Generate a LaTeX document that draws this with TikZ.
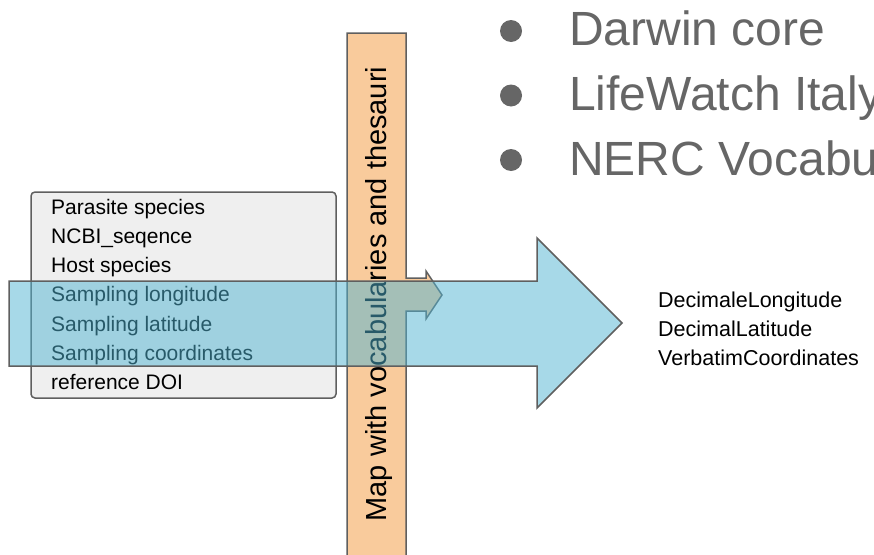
\documentclass[tikz,border=0pt]{standalone}
\usepackage{fontspec}
\setmainfont{Liberation Sans}
\usepackage{xcolor}
\definecolor{boxgrey}{HTML}{EFEFEF}
\definecolor{edgegrey}{HTML}{5F5F5F}
\definecolor{mapbar}{HTML}{F9CB9C}
\definecolor{flowblue}{RGB}{80,180,210}
\definecolor{bulletgrey}{HTML}{666666}

\begin{document}
\begin{tikzpicture}[x=1pt,y=-1pt,
        field/.style={anchor=base west,inner sep=0pt,font=\fontsize{21}{25}\selectfont},
        term/.style={anchor=base west,inner sep=0pt,font=\fontsize{21.5}{26}\selectfont},
        vocab/.style={anchor=base west,inner sep=0pt,text=bulletgrey,font=\fontsize{48}{56}\selectfont},
        shape edge/.style={draw=edgegrey,line width=1.5pt}]
    \useasboundingbox (0,0) rectangle (874,554);
    \clip (0,0) rectangle (874,554);
    % bullet list
    \foreach \t/\name [count=\i] in {Darwin core/dwc, LifeWatch Italy/lw, NERC Vocabularies/nerc}{
        \fill[bulletgrey] (511,{31+64.5*(\i-1)}) circle (11pt);
        \node[vocab] (\name) at (569,{45+65*(\i-1)}) {\t};
    }
    % source fields
    \node[shape edge,fill=boxgrey,rounded corners=4pt,minimum width=305pt,minimum height=206pt] (fields) at (183.5,295) {};
    \foreach \t [count=\i] in {Parasite species, NCBI\_seqence, Host species, Sampling longitude, Sampling latitude, Sampling coordinates, reference DOI}
        \node[field] (f\i) at (51,{214+29.3*(\i-1)}) {\t};
    % mapping bar
    \draw[shape edge,fill=mapbar,line join=miter] (347,33) -- (406,33) -- (406,278) -- (426,278) -- (426,271) -- (442,295)
        -- (426,319) -- (426,311) -- (406,311) -- (406,570) -- (347,570) -- cycle;
    \node[rotate=90,anchor=base,inner sep=0pt,font=\fontsize{29}{34}\selectfont] (maplabel) at (386,294) {Map with vocabularies and thesauri};
    % big arrow
    \draw[shape edge,fill=flowblue,fill opacity=0.5,line join=miter] (9,281) -- (537,281) -- (537,238) -- (622,323)
        -- (537,408) -- (537,366) -- (9,366) -- cycle;
    % target terms
    \foreach \t [count=\i] in {DecimaleLongitude, DecimalLatitude, VerbatimCoordinates}
        \node[term] (t\i) at (658,{307+29*(\i-1)}) {\t};
\end{tikzpicture}
\end{document}
